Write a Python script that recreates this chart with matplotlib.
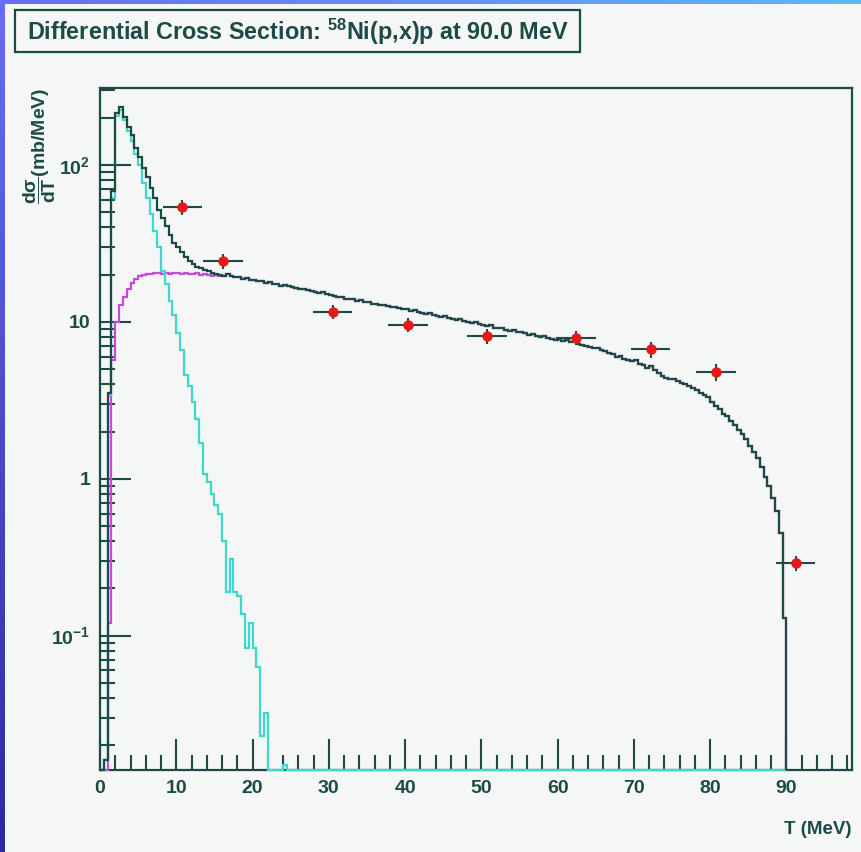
import numpy as np
import matplotlib
matplotlib.use("Agg")
import matplotlib.pyplot as plt
from matplotlib.patches import Rectangle
from matplotlib.ticker import LogLocator, NullFormatter, MultipleLocator

plt.rcParams["font.family"] = ["Liberation Sans", "DejaVu Sans"]
plt.rcParams["font.weight"] = "bold"
plt.rcParams["mathtext.fontset"] = "custom"
plt.rcParams["mathtext.rm"] = "Liberation Sans:bold"
plt.rcParams["mathtext.it"] = "Liberation Sans:bold"
plt.rcParams["mathtext.bf"] = "Liberation Sans:bold"

# ---- data -------------------------------------------------------------
bin_width = 0.5          # MeV
t_max = 90.0             # beam energy, MeV

# total calculated spectrum (0.5 MeV bins, 0-90 MeV)
total = [
    0, 0.016, 3.5, 68, 215, 235, 203, 175, 155, 128,
    113, 96, 84, 71, 62, 52, 46, 41, 36, 32,
    30, 28, 26, 24.5, 23.5, 22.5, 22, 21.5, 21, 20.5,
    20.2, 20, 19.6, 20.3, 19.5, 19.4, 19.2, 18.9, 19.0, 18.6,
    18.5, 18.3, 18.1, 17.8, 17.9, 17.5, 17.4, 17.0, 17.2, 16.9,
    16.6, 16.5, 16.2, 16.3, 15.9, 15.7, 15.6, 15.3, 15.4, 15.0,
    14.8, 14.7, 14.4, 14.5, 14.1, 14.0, 13.9, 13.6, 13.7, 13.4,
    13.3, 13.1, 13.0, 12.8, 12.9, 12.6, 12.4, 12.5, 12.2, 12.1,
    12.0, 11.8, 11.9, 11.6, 11.4, 11.3, 11.4, 11.1, 10.9, 10.8,
    10.9, 10.6, 10.5, 10.3, 10.4, 10.1, 10.0, 9.9, 10.0, 9.7,
    9.6, 9.4, 9.5, 9.2, 9.1, 9.2, 8.9, 8.8, 8.9, 8.6,
    8.6, 8.5, 8.3, 8.4, 8.1, 8.0, 8.1, 7.9, 7.8, 7.7,
    7.8, 7.6, 7.7, 7.5, 7.6, 7.2, 7.1, 7.0, 6.9, 6.8,
    6.8, 6.6, 6.5, 6.3, 6.2, 6.0, 6.1, 5.8, 5.7, 5.6,
    5.7, 5.4, 5.3, 5.1, 5.2, 4.9, 4.7, 4.5, 4.4, 4.3,
    4.3, 4.2, 4.1, 4.0, 3.9, 3.8, 3.7, 3.5, 3.4, 3.3,
    3.1, 2.9, 2.8, 2.6, 2.5, 2.35, 2.2, 2.05, 1.93, 1.78,
    1.62, 1.48, 1.35, 1.18, 1.02, 0.9, 0.75, 0.62, 0.45, 0.13,
]

# evaporation (equilibrium) component, 0-25 MeV; zero above
evaporation = [
    0, 0.016, 3.4, 62, 205, 225, 195, 165, 142, 118,
    100, 77, 62, 49, 38, 30, 21, 17.5, 13.5, 11,
    8.5, 6.6, 4.6, 3.9, 3.1, 2.4, 1.7, 1.07, 0.95, 0.8,
    0.68, 0.6, 0.4, 0.19, 0.31, 0.19, 0.18, 0.137, 0.083, 0.12,
    0.083, 0.063, 0.023, 0.032, 0, 0, 0, 0, 0.015, 0,
]

# pre-equilibrium component, 0-16 MeV; above that it coincides with the total
preequilibrium_low = [
    0, 0, 0.12, 5.7, 10, 12.8, 14.5, 16.3, 17.6, 18.9,
    19.5, 20, 20.3, 20.1, 20.6, 20.4, 20.2, 20.5, 20.3, 20.6,
    20.4, 20.2, 20.5, 20.3, 20.1, 20.4, 20.0, 20.2, 19.9, 19.6,
    19.8, 19.5,
]

# measured points
exp_T = [10.8, 16.1, 30.5, 40.4, 50.7, 62.4, 72.2, 80.8, 91.2]
exp_xs = [54, 24.5, 11.6, 9.6, 8.1, 7.9, 6.7, 4.8, 0.29]
exp_dT = [2.6, 2.6, 2.6, 2.6, 2.6, 2.6, 2.6, 2.6, 2.6]
exp_dxs = [6.0, 2.6, 1.2, 1.0, 0.85, 0.8, 0.8, 0.6, 0.032]

x_ticks = [0, 10, 20, 30, 40, 50, 60, 70, 80, 90]
y_ticks = [0.1, 1, 10, 100]
y_tick_labels = [r"$10^{-1}$", "1", "10", r"$10^{2}$"]

x_lim = (0, 98.6)
y_lim = (0.0139, 310)

# ---- colours ----------------------------------------------------------
dark = "#1c4a47"
cyan = "#3fd8cf"
magenta = "#c84ad8"
canvas = "#f4f7f5"

# ---- figure -----------------------------------------------------------
W, H = 861, 852
fig = plt.figure(figsize=(W / 100, H / 100), dpi=100)


def fx(px):
    return px / W


def fy(py):
    return 1 - py / H


# slide background with the light canvas on top
bg = fig.add_axes([0, 0, 1, 1], zorder=-10)
bg.set_axis_off()
yy, xx = np.mgrid[0:1:200j, 0:1:200j]
tl = np.array([0.42, 0.42, 0.96])
tr = np.array([0.36, 0.72, 0.96])
bl = np.array([0.17, 0.17, 0.62])
br = np.array([0.22, 0.35, 0.75])
grad = ((1 - xx)[..., None] * (1 - yy)[..., None] * tl
        + xx[..., None] * (1 - yy)[..., None] * tr
        + (1 - xx)[..., None] * yy[..., None] * bl
        + xx[..., None] * yy[..., None] * br)
bg.imshow(grad, extent=[0, 1, 0, 1], aspect="auto", origin="upper")
bg.add_patch(Rectangle((fx(5), 0), 1 - fx(5), fy(4), transform=bg.transAxes,
                       facecolor=canvas, edgecolor="none"))
bg.set_xlim(0, 1)
bg.set_ylim(0, 1)

# title pave
bg.add_patch(Rectangle((fx(15), fy(52)), fx(580) - fx(15), fy(10) - fy(52),
                       transform=bg.transAxes, facecolor=canvas,
                       edgecolor=dark, linewidth=1.6))
fig.text(fx(27), fy(32), r"Differential Cross Section: $^{58}$Ni(p,x)p at 90.0 MeV",
         ha="left", va="center", fontsize=16.8, fontweight="bold", color=dark)

# main frame
ax = fig.add_axes([fx(100), fy(770), fx(852) - fx(100), fy(88) - fy(770)])
ax.set_facecolor(canvas)
ax.set_yscale("log")
ax.set_xlim(*x_lim)
ax.set_ylim(*y_lim)

ymin = y_lim[0]
edges = np.arange(0, t_max + bin_width / 2, bin_width)
n_bins = len(edges) - 1

tot = np.asarray(total, dtype=float)
evap = np.zeros(n_bins)
evap[:len(evaporation)] = evaporation
preq = tot.copy()
preq[:len(preequilibrium_low)] = preequilibrium_low


def floor(v):
    return np.where(v > 0, v, ymin)


lw = 1.6
ax.stairs(floor(preq), edges, baseline=ymin, color=magenta, lw=lw,
          clip_on=False, zorder=3)
ax.stairs(floor(evap), edges, baseline=ymin, color=cyan, lw=lw,
          clip_on=False, zorder=4)
ax.stairs(floor(tot), edges, baseline=ymin, color=dark, lw=lw,
          clip_on=False, zorder=5)

ax.errorbar(exp_T, exp_xs, xerr=exp_dT, yerr=exp_dxs, fmt="o",
            color="#e81818", ecolor=dark, elinewidth=1.5, capsize=3.5,
            capthick=1.5, markersize=7.5, markeredgewidth=0, zorder=6)

# axes styling
for s in ax.spines.values():
    s.set_color(dark)
    s.set_linewidth(1.6)

ax.set_xticks(x_ticks)
ax.xaxis.set_minor_locator(MultipleLocator(2))
ax.set_yticks(y_ticks, labels=y_tick_labels)
ax.yaxis.set_minor_locator(LogLocator(base=10, subs=range(2, 10)))
ax.yaxis.set_minor_formatter(NullFormatter())
ax.tick_params(which="both", direction="in", top=False, right=False,
               color=dark, width=1.5, labelcolor=dark, labelsize=14)
ax.tick_params(which="major", length=22, pad=7)
ax.tick_params(which="minor", length=11)
for lab in ax.get_xticklabels() + ax.get_yticklabels():
    lab.set_fontweight("bold")

fig.text(fx(851), fy(830), "T (MeV)", ha="right", va="center",
         fontsize=13.5, fontweight="bold", color=dark)
fig.text(fx(40), fy(88), r"$\dfrac{d\sigma}{dT}$(mb/MeV)", rotation=90,
         ha="center", va="top", fontsize=14, fontweight="bold", color=dark)

fig.savefig("out.png", dpi=100, facecolor=canvas)
